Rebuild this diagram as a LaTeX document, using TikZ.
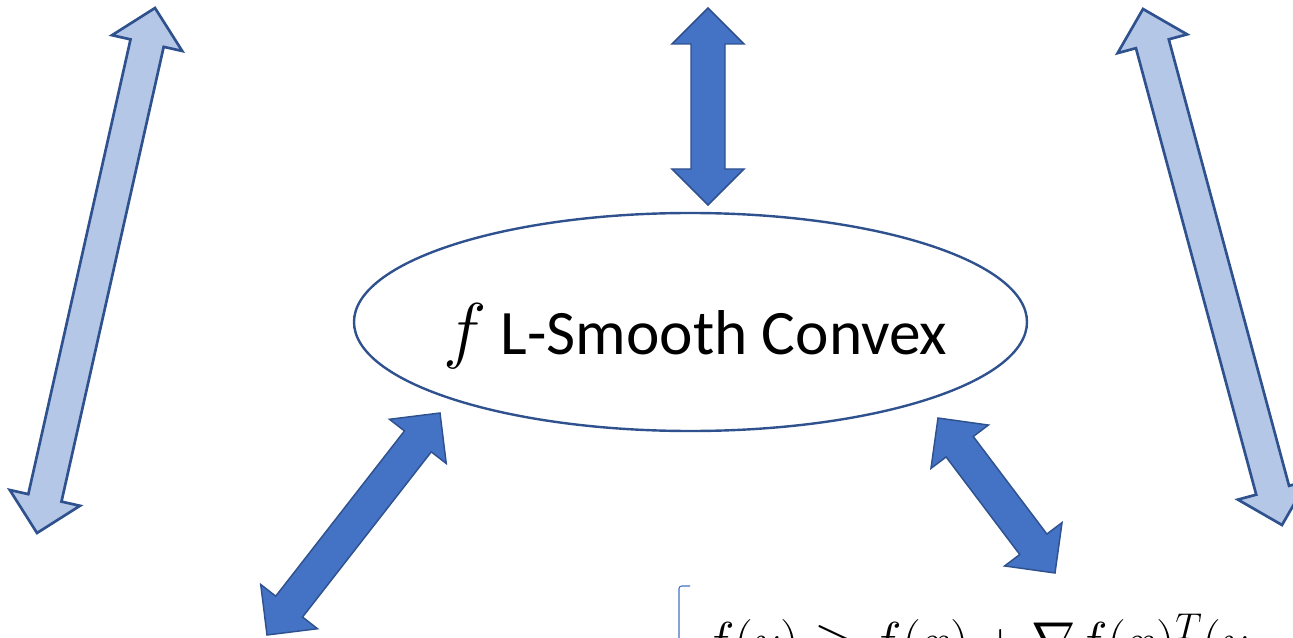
\RequirePackage{fix-cm}
\documentclass[tikz,border=0pt]{standalone}
\usepackage{fontspec}
\setmainfont{Carlito}
\usepackage{amsmath}
\usepackage{xcolor}
\usetikzlibrary{calc,shapes.geometric}
\definecolor{arrowblue}{HTML}{4472C4}
\definecolor{arrowlight}{HTML}{B4C7E7}
\definecolor{edgeblue}{HTML}{2F528F}
\tikzset{
  darkarrow/.style = {
    fill=arrowblue,
    draw=edgeblue,
    line width=1.1pt,
    line join=miter
  },
  lightarrow/.style = {
    fill=arrowlight,
    draw=edgeblue,
    line width=2pt,
    line join=miter
  },
  mainellipse/.style = {
    ellipse,
    draw=edgeblue,
    fill=white,
    line width=1.8pt,
    inner sep=0pt,
    minimum width=504.75pt,
    minimum height=163.5pt
  },
  titletext/.style = {
    anchor=base west,
    inner sep=0pt,
    font=\fontsize{47.5}{56}\selectfont
  },
  formulatext/.style = {
    anchor=base west,
    inner sep=0pt,
    font=\fontsize{40}{48}\selectfont
  }
}
% block double arrow between two named points
\newcommand{\blockarrow}[3]{%
  \path ($(#2)!27pt!(#3)$) coordinate (#2-base)
        ($(#3)!27pt!(#2)$) coordinate (#3-base);
  \draw[#1] (#2)
    -- ($(#2-base)!27pt!90:(#3)$) -- ($(#2-base)!12.75pt!90:(#3)$)
    -- ($(#3-base)!12.75pt!90:(#3)$) -- ($(#3-base)!27pt!90:(#3)$)
    -- (#3)
    -- ($(#3-base)!27pt!-90:(#3)$) -- ($(#3-base)!12.75pt!-90:(#3)$)
    -- ($(#2-base)!12.75pt!-90:(#3)$) -- ($(#2-base)!27pt!-90:(#3)$)
    -- cycle;
}

\begin{document}
\begin{tikzpicture}[x=0.75pt,y=-0.75pt]
    \useasboundingbox (0,0) rectangle (1293,638);
    \clip (0,0) rectangle (1293,638);
    \node[mainellipse] (smooth) at (690.5,322) {};
    \node[titletext] (title) at (443,354) {\mbox{\fontsize{55}{60}\selectfont$f$} L-Smooth Convex};
    \coordinate (ttop) at (708,8);
    \coordinate (tbot) at (708,205);
    \coordinate (ltop) at (155,8);
    \coordinate (lbot) at (37,533);
    \coordinate (rtop) at (1143,9);
    \coordinate (rbot) at (1282,525);
    \coordinate (bltop) at (440,413);
    \coordinate (blbot) at (267,635);
    \coordinate (brtop) at (938,418);
    \coordinate (brbot) at (1055,573);
    \blockarrow{darkarrow}{ttop}{tbot}
    \blockarrow{lightarrow}{ltop}{lbot}
    \blockarrow{lightarrow}{rtop}{rbot}
    \blockarrow{darkarrow}{bltop}{blbot}
    \blockarrow{darkarrow}{brtop}{brbot}
    \node[formulatext] (bound) at (703,659) {$f(y) \geq f(x) + \nabla f(x)^T(y-x)$};
    \draw[arrowblue, line width=0.8pt, rounded corners=2pt] (690,586) -| (679,645);
  \end{tikzpicture}
\end{document}
